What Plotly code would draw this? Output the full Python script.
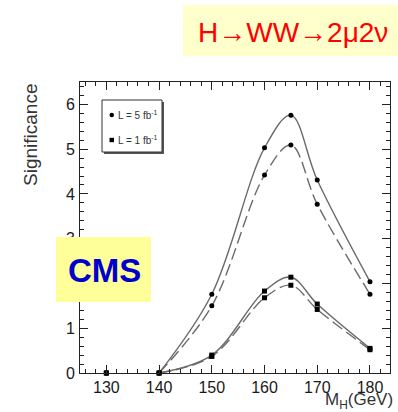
import plotly.graph_objects as go

# ---------------- data ----------------
mass = [130, 140, 150, 160, 165, 170, 180]
sig_5fb_solid = [0, 0, 1.76, 5.03, 5.76, 4.31, 2.04]
sig_5fb_dash = [0, 0, 1.50, 4.42, 5.09, 3.77, 1.76]
sig_1fb_solid = [0, 0, 0.40, 1.83, 2.14, 1.54, 0.55]
sig_1fb_dash = [0, 0, 0.37, 1.68, 1.96, 1.42, 0.52]
x_ticks = [130, 140, 150, 160, 170, 180]
y_ticks = [0, 1, 2, 3, 4, 5, 6]
legend_labels = ["L = 5 fb<sup>-1</sup>", "L = 1 fb<sup>-1</sup>"]

W, H = 398, 412
L, R, T, B = 80, 8, 82, 39
PW, PH = W - L - R, H - T - B


def px(x):
    return (x - L) / PW


def py(y):
    return (H - B - y) / PH


FONT = "Liberation Sans, Arial, Helvetica, sans-serif"
LINE_COL = "#6a6a6a"

fig = go.Figure()

series = [
    (sig_5fb_solid, "solid", "circle"),
    (sig_5fb_dash, "12px,5px", "circle"),
    (sig_1fb_solid, "solid", "square"),
    (sig_1fb_dash, "12px,5px", "square"),
]
for vals, dash, sym in series:
    fig.add_trace(go.Scatter(
        x=mass[1:], y=vals[1:], mode="lines",
        line=dict(color=LINE_COL, width=1.4, dash=dash, shape="spline", smoothing=1.0),
        showlegend=False, hoverinfo="skip"))
for vals, dash, sym in series:
    fig.add_trace(go.Scatter(
        x=mass, y=vals, mode="markers", cliponaxis=False,
        marker=dict(symbol=sym, size=5, color="black"),
        showlegend=False))

axis_common = dict(
    showline=True, linecolor="#222", linewidth=1, mirror="allticks",
    ticks="inside", ticklen=8, tickcolor="#222", tickwidth=1,
    showgrid=False, zeroline=False,
    tickfont=dict(family=FONT, size=16, color="#1a1a1a"),
)
fig.update_xaxes(range=[125, 183.8], tickvals=x_ticks, ticktext=[str(v) for v in x_ticks],
                 minor=dict(dtick=2, tick0=130, ticks="inside", ticklen=4, tickcolor="#222"),
                 ticklabelstandoff=0,
                 **axis_common)
fig.update_yaxes(range=[0, 6.5], tickvals=y_ticks, ticktext=[str(v) for v in y_ticks],
                 minor=dict(dtick=0.2, tick0=0, ticks="inside", ticklen=4, tickcolor="#222"),
                 ticklabelstandoff=1,
                 **axis_common)

shapes = [
    # title box
    dict(type="rect", xref="paper", yref="paper", x0=px(183), x1=px(400), y0=py(56), y1=py(5),
         fillcolor="#FFFFCC", line=dict(width=0), layer="above"),
    # CMS box
    dict(type="rect", xref="paper", yref="paper", x0=px(56), x1=px(151), y0=py(302), y1=py(237),
         fillcolor="#FFFF99", line=dict(width=0), layer="above"),
    # legend shadow + box
    dict(type="rect", xref="paper", yref="paper", x0=px(104), x1=px(164), y0=py(154), y1=py(102),
         fillcolor="#555", line=dict(width=0), layer="above"),
    dict(type="rect", xref="paper", yref="paper", x0=px(102), x1=px(162), y0=py(152), y1=py(100),
         fillcolor="white", line=dict(width=1, color="#333"), layer="above"),
    # legend markers
    dict(type="circle", xref="paper", yref="paper", x0=px(109.5), x1=px(114), y0=py(117.2), y1=py(112.8),
         fillcolor="black", line=dict(width=0), layer="above"),
    dict(type="rect", xref="paper", yref="paper", x0=px(109.5), x1=px(114), y0=py(142.2), y1=py(137.8),
         fillcolor="black", line=dict(width=0), layer="above"),
]

annotations = [
    dict(text="H→WW→2μ2ν", xref="paper", yref="paper", x=px(293), y=py(33),
         xanchor="center", yanchor="middle", showarrow=False,
         font=dict(family=FONT, size=28, color="#FF0000")),
    dict(text="<b>CMS</b>", xref="paper", yref="paper", x=px(104), y=py(270),
         xanchor="center", yanchor="middle", showarrow=False,
         font=dict(family=FONT, size=33, color="#0000CC")),
    dict(text=legend_labels[0], xref="paper", yref="paper", x=px(116), y=py(115),
         xanchor="left", yanchor="middle", showarrow=False,
         font=dict(family=FONT, size=10, color="#333")),
    dict(text=legend_labels[1], xref="paper", yref="paper", x=px(116), y=py(140),
         xanchor="left", yanchor="middle", showarrow=False,
         font=dict(family=FONT, size=10, color="#333")),
    dict(text="Significance", xref="paper", yref="paper", x=px(30), y=py(135),
         xanchor="center", yanchor="middle", textangle=-90, showarrow=False,
         font=dict(family=FONT, size=19, color="#333")),
    dict(text="M<sub>H</sub>(GeV)", xref="paper", yref="paper", x=px(395), y=py(401),
         xanchor="right", yanchor="middle", showarrow=False,
         font=dict(family=FONT, size=17, color="#333")),
]

fig.update_layout(
    width=W, height=H,
    margin=dict(l=L, r=R, t=T, b=B, pad=0),
    paper_bgcolor="white", plot_bgcolor="white",
    shapes=shapes, annotations=annotations, showlegend=False,
)

fig.write_html("out.html", config={"displayModeBar": False},
               post_script="document.body.style.margin='0';document.body.style.overflow='hidden';")
